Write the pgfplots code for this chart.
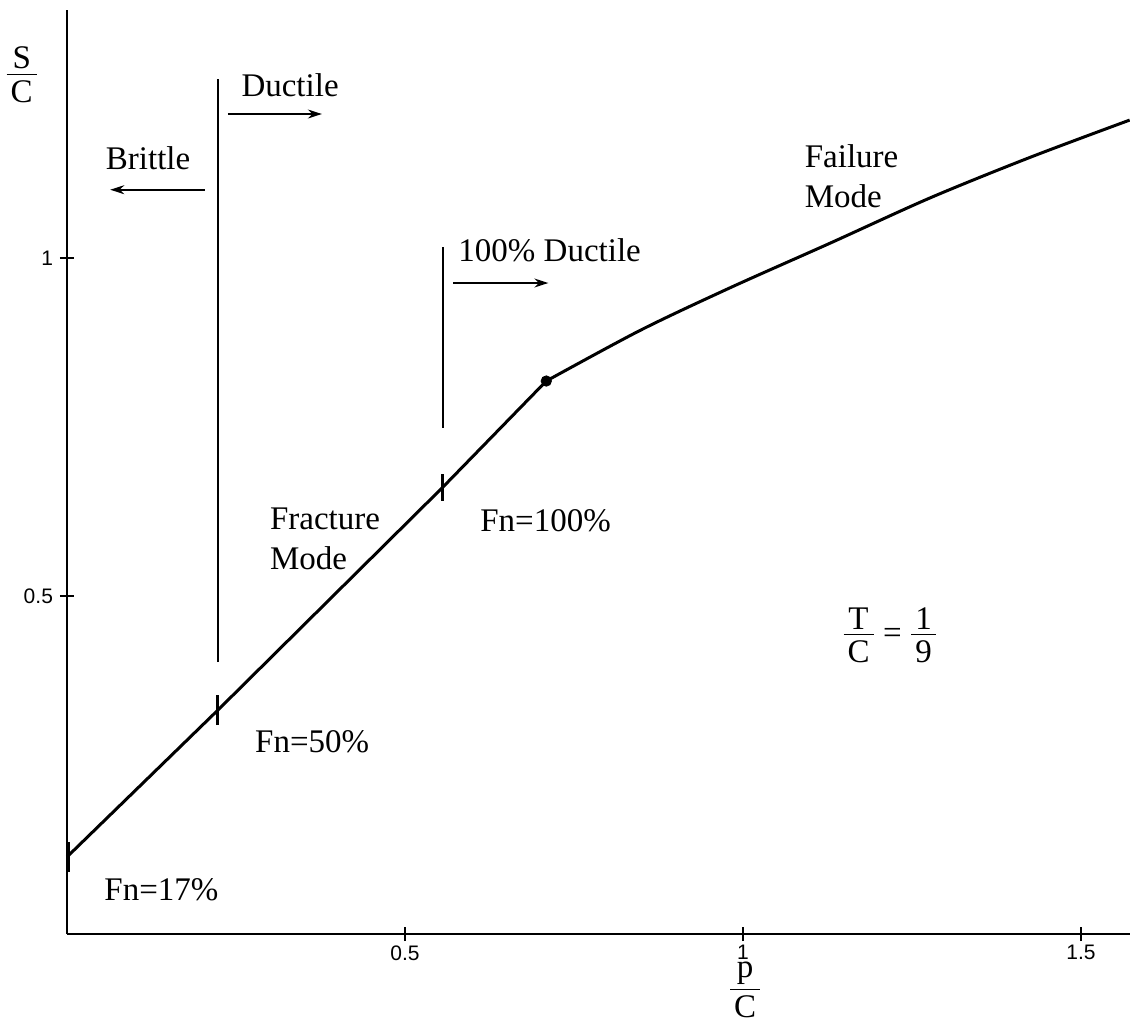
\documentclass[border=0pt]{standalone}
\usepackage{pgfplots}
\pgfplotsset{compat=1.18}
\usetikzlibrary{arrows.meta}
\usepackage{fontspec}
\setmainfont{Liberation Serif}
\newfontfamily\sansf{Liberation Sans}
\newcommand{\lbl}{\fontsize{16.5}{20}\selectfont}
\newcommand{\fr}[2]{\ensuremath{\vcenter{\halign{\hfil\kern2pt##\kern2pt\hfil\cr #1\cr\noalign{\kern2.3pt\hrule height 0.7pt\kern2.7pt}#2\cr}}}}
\begin{document}
\begin{tikzpicture}
\begin{axis}[
  at={(0,0)}, anchor=origin,
  x=338pt, y=338pt,
  xmin=0, xmax=1.572, ymin=0, ymax=1.367,
  axis x line=bottom, axis y line=left,
  axis line style={-, line width=1pt},
  xtick={0.5,1,1.5}, ytick={0.5,1},
  xticklabels={0.5,1,1.5}, yticklabels={0.5,1},
  tick align=center, major tick length=7pt,
  tick style={line width=0.8pt, black},
  /pgf/number format/assume math mode=true,
  tick label style={font=\sansf\fontsize{10.5}{12}\selectfont},
  xticklabel style={inner sep=0.5pt, yshift=-1.5pt},
  clip=false,
]
% main curve: linear fracture branch
\addplot[line width=1.5pt, black] coordinates {
(0,0.114) (0.223,0.331) (0.556,0.661) (0.709,0.818)};
% failure branch
\addplot[line width=1.5pt, black, smooth] coordinates {
(0.709,0.818) (0.848,0.893) (0.981,0.956) (1.129,1.022)
(1.277,1.089) (1.425,1.149) (1.572,1.204)};
\addplot[only marks, mark=*, mark size=2.6pt, black] coordinates {(0.709,0.818)};
% short ticks on the curve
\addplot[line width=1.5pt, black] coordinates {(0.002,0.092) (0.002,0.136)};
\addplot[line width=1.5pt, black] coordinates {(0.223,0.309) (0.223,0.353)};
\addplot[line width=1.5pt, black] coordinates {(0.556,0.641) (0.556,0.681)};
% vertical divider lines
\addplot[line width=1pt, black] coordinates {(0.2234,0.402) (0.2234,1.265)};
\addplot[line width=1pt, black] coordinates {(0.556,0.749) (0.556,1.016)};
% arrows
\addplot[line width=0.8pt, black, -{Stealth[length=7pt,width=4.5pt]}] coordinates {(0.204,1.101) (0.064,1.101)};
\addplot[line width=0.8pt, black, -{Stealth[length=7pt,width=4.5pt]}] coordinates {(0.238,1.213) (0.377,1.213)};
\addplot[line width=0.8pt, black, -{Stealth[length=7pt,width=4.5pt]}] coordinates {(0.571,0.963) (0.712,0.963)};
% texts
\node[font=\lbl] at (axis cs:0.330,1.256) {Ductile};
\node[font=\lbl] at (axis cs:0.120,1.148) {Brittle};
\node[font=\lbl] at (axis cs:0.714,1.012) {100\% Ductile};
\node[font=\lbl, anchor=west, align=left] at (axis cs:1.081,1.121) {Failure\\Mode};
\node[font=\lbl, anchor=west, align=left] at (axis cs:0.290,0.584) {Fracture\\Mode};
\node[font=\lbl, anchor=west] at (axis cs:0.601,0.612) {Fn=100\%};
\node[font=\lbl, anchor=west] at (axis cs:0.268,0.284) {Fn=50\%};
\node[font=\lbl, anchor=west] at (axis cs:0.045,0.065) {Fn=17\%};
\node[font=\lbl, inner sep=0pt] at (axis cs:1.217,0.442) {$\fr{T}{C}\;\mbox{=}\;\fr{1}{9}$};
\node[font=\lbl, inner sep=0pt] at (axis cs:-0.067,1.271) {\fr{S}{C}};
\node[font=\lbl, inner sep=0pt] at (axis cs:1.003,-0.0828) {\fr{p}{C}};
\end{axis}
\pgfresetboundingbox
\path (-33.5pt,-44.5pt) rectangle (531.5pt,467pt);
\end{tikzpicture}
\end{document}
